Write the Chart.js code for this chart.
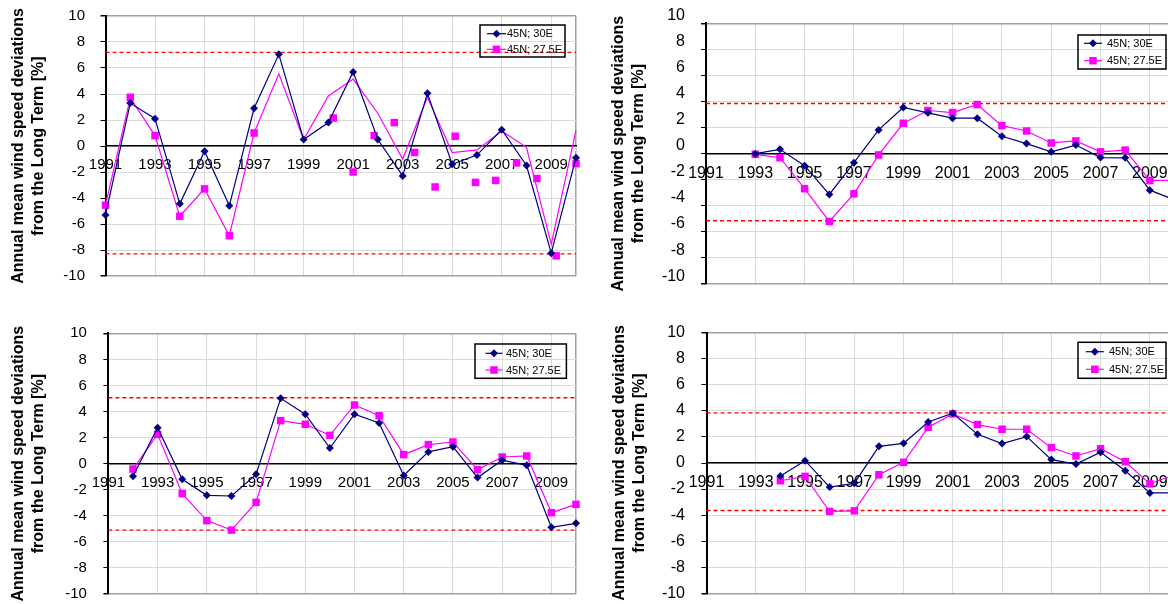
<!DOCTYPE html>
<html><head><meta charset="utf-8">
<script src="https://cdn.jsdelivr.net/npm/chart.js@4.4.0/dist/chart.umd.min.js"></script>
<style>
html,body{margin:0;padding:0;background:#fff;overflow:hidden;width:1168px;height:604px;position:relative}
canvas{position:absolute}
</style></head><body>
<canvas id="c1" width="590" height="300" style="left:0;top:0"></canvas>
<canvas id="c2" width="600" height="300" style="left:590px;top:0"></canvas>
<canvas id="c3" width="590" height="304" style="left:0;top:300px"></canvas>
<canvas id="c4" width="600" height="304" style="left:590px;top:300px"></canvas>
<script>
// ---------- data ----------
const years = [1991,1992,1993,1994,1995,1996,1997,1998,1999,2000,2001,2002,2003,2004,2005,2006,2007,2008,2009,2010];
const xTickLabels = ['1991','1993','1995','1997','1999','2001','2003','2005','2007','2009'];
const xEnd = 2010;
const yMin = -10, yMax = 10, yStep = 2;
const seriesNames = ['45N; 30E', '45N; 27.5E'];
const axisTitle = ['Annual mean wind speed deviations', 'from the Long Term [%]'];

// Panel 1 (top left)
const p1Years = years;
const p1Blue = [-5.3, 3.3, 2.1, -4.45, -0.4, -4.6, 2.9, 7.05, 0.5, 1.8, 5.7, 0.5, -2.3, 4.05, -1.4, -0.7, 1.25, -1.5, -8.25, -0.9];
const p1PinkLine = [-4.55, 3.7, 0.8, -5.4, -3.3, -6.9, 1.0, 5.55, 0.5, 3.85, 5.15, 2.5, -1.0, 3.75, -0.5, -0.3, 1.15, -0.1, -7.55, 1.2];
const p1PinkMarkerYears = [1991, 1992, 1993, 1994, 1995, 1996, 1997, 2000.2, 2001.0, 2001.85, 2002.66, 2003.48, 2004.31, 2005.12, 2005.94, 2006.76, 2007.6, 2008.42, 2009.2, 2010];
const p1PinkMarkerValues = [-4.55, 3.75, 0.8, -5.4, -3.3, -6.9, 1.0, 2.15, -2.0, 0.8, 1.8, -0.5, -3.15, 0.75, -2.8, -2.65, -1.3, -2.5, -8.45, -1.35];
const p1Limits = [7.2, -8.3];

// Panel 2 (top right)
const p2Years = years.slice(2);
const p2Blue = [0.0, 0.33, -0.92, -3.13, -0.69, 1.82, 3.54, 3.13, 2.72, 2.72, 1.33, 0.77, 0.14, 0.66, -0.3, -0.32, -2.8, -3.55];
const p2Pink = [-0.05, -0.31, -2.69, -5.2, -3.08, -0.1, 2.33, 3.31, 3.15, 3.77, 2.15, 1.74, 0.82, 0.98, 0.14, 0.27, -2.06, -2.06];
const p2Limits = [3.85, -5.15];

// Panel 3 (bottom left)
const p3Years = years.slice(1);
const p3Blue = [-0.97, 2.76, -1.2, -2.43, -2.48, -0.82, 5.01, 3.79, 1.2, 3.79, 3.12, -0.9, 0.9, 1.3, -1.07, 0.26, -0.13, -4.88, -4.58];
const p3Pink = [-0.41, 2.25, -2.3, -4.37, -5.1, -2.97, 3.3, 3.02, 2.17, 4.5, 3.68, 0.69, 1.46, 1.66, -0.46, 0.51, 0.59, -3.76, -3.12];
const p3Limits = [5.05, -5.1];

// Panel 4 (bottom right)
const p4Years = years.slice(3);
const p4Blue = [-1.0, 0.18, -1.85, -1.56, 1.28, 1.51, 3.15, 3.82, 2.2, 1.49, 2.03, 0.26, -0.08, 0.82, -0.59, -2.3, -2.3];
const p4Pink = [-1.36, -1.03, -3.72, -3.67, -0.9, 0.05, 2.74, 3.77, 2.95, 2.59, 2.59, 1.18, 0.54, 1.1, 0.1, -1.6, -0.9];
const p4Limits = [3.85, -3.65];

// ---------- styling ----------
const FONT = "'Liberation Sans', Arial, sans-serif";
const BLUE = '#000080', PINK = '#ff00ff', RED = '#ff0000';
const GRID = '#dadada', FRAME = '#a0a0a0';

function pts(xs, ys) { return ys.map((y, i) => ({x: xs[i], y: y})); }

const blueStyle = {borderColor: BLUE, backgroundColor: BLUE, borderWidth: 1.2, pointStyle: 'rectRot', pointRadius: 4, pointBorderWidth: 0};
const pinkStyle = {borderColor: PINK, backgroundColor: PINK, borderWidth: 1.2, pointStyle: 'rect', pointRadius: 5.3, pointBorderWidth: 0};

const panelLegend = {
  id: 'panelLegend',
  afterDatasetsDraw(chart, args, o) {
    if (!o || !o.w) return;
    const {ctx, chartArea} = chart;
    const x0 = chartArea.right - o.right - o.w;
    const y0 = chartArea.top + o.top;
    ctx.save();
    ctx.strokeStyle = '#000'; ctx.lineWidth = 1.5;
    ctx.strokeRect(x0, y0, o.w, o.h);
    const styles = [blueStyle, pinkStyle];
    ctx.font = o.font + 'px ' + FONT;
    ctx.textBaseline = 'middle'; ctx.textAlign = 'left';
    styles.forEach((s, i) => {
      const y = y0 + o.rows[i];
      ctx.strokeStyle = s.borderColor; ctx.lineWidth = 1.2;
      ctx.beginPath(); ctx.moveTo(x0 + o.sx, y); ctx.lineTo(x0 + o.sx + o.sl, y); ctx.stroke();
      ctx.fillStyle = s.backgroundColor;
      Chart.helpers.drawPoint(ctx, {pointStyle: s.pointStyle, radius: s.pointRadius, rotation: 0, borderWidth: 0}, x0 + o.sx + o.sl / 2, y);
      ctx.fillStyle = '#000';
      ctx.fillText(seriesNames[i], x0 + o.tx, y + 0.5);
    });
    ctx.restore();
  }
};

function makePanel(id, P) {
  const datasets = [];
  datasets.push(Object.assign({label: seriesNames[0], data: pts(P.years, P.blue), showLine: true, clip: false, order: 0}, blueStyle));
  if (P.pinkMarkers) {
    datasets.push(Object.assign({}, pinkStyle, {label: seriesNames[1], data: pts(P.years, P.pink), showLine: true, pointRadius: 0, clip: false, order: 1}));
    datasets.push(Object.assign({}, pinkStyle, {label: seriesNames[1] + ' markers', data: pts(P.pinkMarkers[0], P.pinkMarkers[1]), showLine: false, clip: false, order: 1}));
  } else {
    datasets.push(Object.assign({label: seriesNames[1], data: pts(P.years, P.pink), showLine: true, clip: false, order: 1}, pinkStyle));
  }
  P.limits.forEach(v => {
    datasets.push({label: 'limit', data: [{x: years[0], y: v}, {x: xEnd, y: v}], showLine: true, pointRadius: 0,
      borderColor: RED, borderWidth: 1.4, borderDash: [4, 3], clip: false, order: 2});
  });
  const xTickValues = xTickLabels.map(Number).concat([xEnd]);
  return new Chart(document.getElementById(id), {
    type: 'scatter',
    data: {datasets},
    plugins: [panelLegend],
    options: {
      responsive: false, animation: false, events: [],
      layout: {padding: {left: 0, top: P.padTop, right: P.padRight, bottom: P.padBottom}},
      plugins: {legend: {display: false}, tooltip: {enabled: false}, panelLegend: P.legend},
      scales: {
        x: {
          type: 'linear', min: years[0], max: xEnd, position: {y: 0},
          afterBuildTicks: s => { s.ticks = xTickValues.map(v => ({value: v})); },
          afterFit: s => { s.paddingTop = 0; s.paddingBottom = 0; },
          ticks: {
            autoSkip: false, maxRotation: 0, padding: 5, color: '#000',
            font: {family: FONT, size: P.xFont},
            callback: v => xTickLabels.includes(String(v)) ? String(v) : ''
          },
          grid: {
            color: c => (c.tick && c.tick.value === xEnd) ? FRAME : GRID,
            lineWidth: c => (c.tick && c.tick.value === xEnd) ? 1.5 : 1,
            tickLength: 5, tickColor: GRID
          },
          border: {color: '#000', width: 1.5}
        },
        y: {
          min: yMin, max: yMax,
          afterFit: s => { s.width = P.yAxisWidth; s.paddingTop = 0; s.paddingBottom = 0; },
          ticks: {stepSize: yStep, color: '#000', padding: P.yPad, labelOffset: P.yLabelOffset,
            font: {family: FONT, size: P.yFont}},
          grid: {
            color: c => (c.tick && (c.tick.value === yMax || c.tick.value === yMin)) ? FRAME : GRID,
            lineWidth: c => (c.tick && (c.tick.value === yMax || c.tick.value === yMin)) ? 1.5 : 1,
            tickLength: 5, tickColor: '#000'
          },
          border: {color: '#000', width: 2},
          title: {display: true, text: axisTitle, color: '#000',
            font: {family: FONT, size: 16, weight: 'bold', lineHeight: 1.25},
            padding: {top: P.titlePad, bottom: 0}}
        }
      }
    }
  });
}

makePanel('c1', {years: p1Years, blue: p1Blue, pink: p1PinkLine, pinkMarkers: [p1PinkMarkerYears, p1PinkMarkerValues], limits: p1Limits,
  padTop: 16, padBottom: 24, padRight: 14, yAxisWidth: 105.5, yPad: 15.5, yLabelOffset: 0, xFont: 15, yFont: 15, titlePad: 8.3,
  legend: {right: 11, w: 85, top: 9, h: 32, rows: [8.7, 24.3], sx: 7, sl: 19, tx: 27, font: 11}});
makePanel('c2', {years: p2Years, blue: p2Blue, pink: p2Pink, limits: p2Limits,
  padTop: 23.3, padBottom: 16, padRight: 15.5, yAxisWidth: 116, yPad: 16, yLabelOffset: -7.8, xFont: 16, yFont: 16, titlePad: 18.7,
  legend: {right: 8.5, w: 88, top: 11.7, h: 34, rows: [8.3, 25.7], sx: 6, sl: 18, tx: 29, font: 11}});
makePanel('c3', {years: p3Years, blue: p3Blue, pink: p3Pink, limits: p3Limits,
  padTop: 33.3, padBottom: 10, padRight: 14, yAxisWidth: 108.4, yPad: 16.5, yLabelOffset: 0, xFont: 15, yFont: 15, titlePad: 8.3,
  legend: {right: 9.6, w: 91.4, top: 10.7, h: 34.3, rows: [9.3, 26], sx: 10.5, sl: 17, tx: 31, font: 11}});
makePanel('c4', {years: p4Years, blue: p4Blue, pink: p4Pink, limits: p4Limits,
  padTop: 32.7, padBottom: 10.7, padRight: 15.5, yAxisWidth: 116.5, yPad: 16.5, yLabelOffset: 0, xFont: 16, yFont: 16, titlePad: 19.5,
  legend: {right: 8.5, w: 88, top: 9.6, h: 36, rows: [9.4, 27], sx: 7.8, sl: 18, tx: 31, font: 11}});
</script>
</body></html>
